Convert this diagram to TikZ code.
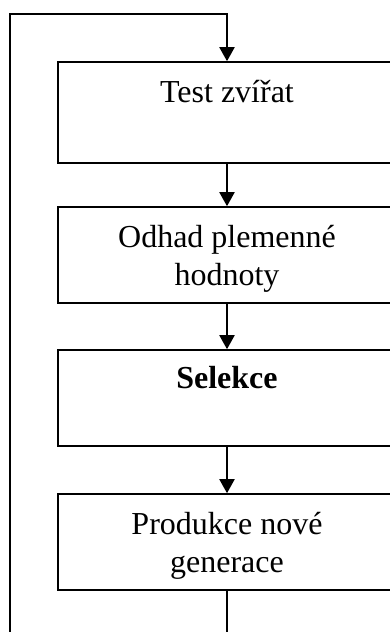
\documentclass[tikz,border=0pt]{standalone}
\usepackage{fontspec}
\setmainfont{Liberation Serif}
\usetikzlibrary{arrows.meta}
\newcommand{\toppad}{\rule{0pt}{29.5pt}}
\begin{document}
\begin{tikzpicture}[x=1pt,y=-1pt,
  box/.style={draw,line width=1.6pt,minimum width=338pt,minimum height=96pt,
    inner sep=0pt,align=center,font=\fontsize{32}{38}\selectfont},
  conn/.style={line width=2pt},
  arr/.style={conn,-{Triangle[length=14pt,width=15pt]}}]
\useasboundingbox (0,0) rectangle (390,632);
\clip (0,0) rectangle (390,632);
\node[box,minimum height=101pt] (b1) at (227,112.5) {\toppad Test zvířat\\\strut};
\node[box] (b2) at (227,255) {\toppad Odhad plemenné\\hodnoty};
\node[box] (b3) at (227,398) {\toppad\textbf{Selekce}\\\strut};
\node[box] (b4) at (227,542) {\toppad Produkce nové\\generace};
\coordinate (bl) at (10,650);
\coordinate (tl) at (10,14);
\coordinate (tr) at (227,14);
\coordinate (bb) at (227,650);
\draw[arr] (bl) -- (tl) -- (tr) -- (b1.north);
\draw[arr] (b1.south) -- (b2.north);
\draw[arr] (b2.south) -- (b3.north);
\draw[arr] (b3.south) -- (b4.north);
\draw[conn] (b4.south) -- (bb);
\end{tikzpicture}
\end{document}
